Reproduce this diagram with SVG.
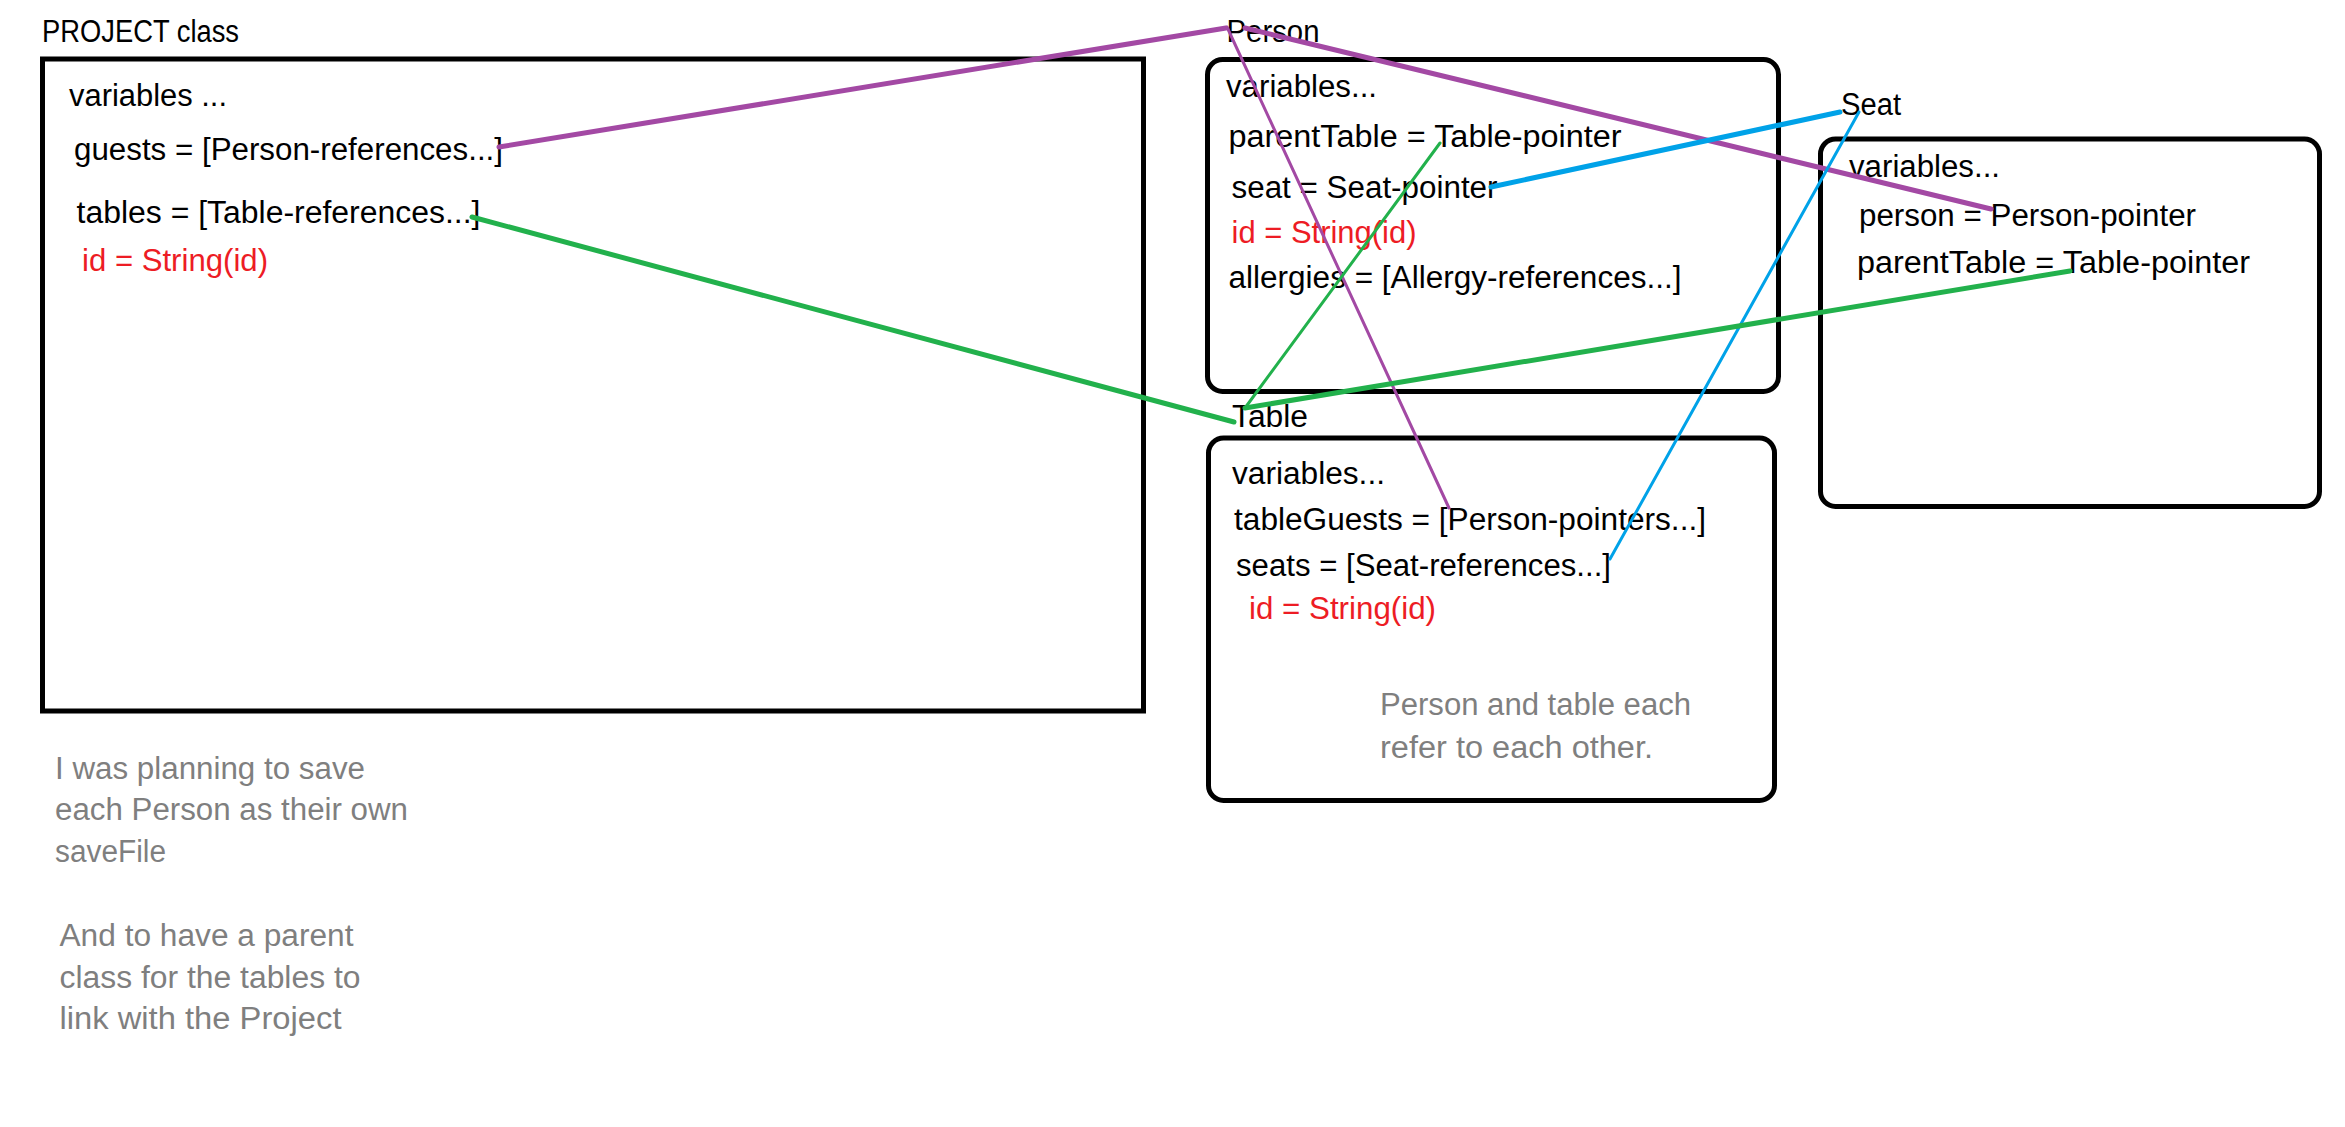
<svg xmlns="http://www.w3.org/2000/svg" width="2345" height="1127" viewBox="0 0 2345 1127">
<style>
text{font-family:"Liberation Sans",Arial,sans-serif;font-size:31px;fill:#000}
.red{fill:#ED1C24}
.gray{fill:#7F7F7F}
.box{fill:none;stroke:#000;stroke-width:5}
.thick{stroke-width:5;fill:none;stroke-linecap:round}
.thin{stroke-width:3;fill:none;stroke-linecap:round}
.purple{stroke:#A349A4}
.green{stroke:#22B14C}
.blue{stroke:#00A2E8}
</style>
<rect width="2345" height="1127" fill="#fff"/>
<g id="project">
<text x="42" y="41.5" textLength="197" lengthAdjust="spacingAndGlyphs">PROJECT class</text>
<rect class="box" x="42.5" y="59" width="1101" height="652"/>
<text x="69" y="106" textLength="158" lengthAdjust="spacingAndGlyphs">variables ...</text>
<text x="74" y="160" textLength="429" lengthAdjust="spacingAndGlyphs">guests = [Person-references...]</text>
<text x="76.5" y="222.5" textLength="404" lengthAdjust="spacingAndGlyphs">tables = [Table-references...]</text>
<text class="red" x="82" y="270.5" textLength="186" lengthAdjust="spacingAndGlyphs">id = String(id)</text>
</g>
<g id="person">
<text x="1226.5" y="41.5" textLength="93" lengthAdjust="spacingAndGlyphs">Person</text>
<rect class="box" x="1207.5" y="59.5" width="571" height="332" rx="15"/>
<text x="1226" y="97" textLength="151" lengthAdjust="spacingAndGlyphs">variables...</text>
<text x="1228.5" y="146.5" textLength="393" lengthAdjust="spacingAndGlyphs">parentTable = Table-pointer</text>
<text x="1231.5" y="198" textLength="266" lengthAdjust="spacingAndGlyphs">seat = Seat-pointer</text>
<text class="red" x="1231.5" y="242.5" textLength="185" lengthAdjust="spacingAndGlyphs">id = String(id)</text>
<text x="1228.5" y="287.5" textLength="453" lengthAdjust="spacingAndGlyphs">allergies = [Allergy-references...]</text>
</g>
<g id="seat">
<text x="1841" y="115" textLength="60" lengthAdjust="spacingAndGlyphs">Seat</text>
<rect class="box" x="1820.5" y="139" width="499" height="367.5" rx="15"/>
<text x="1849" y="176.5" textLength="151" lengthAdjust="spacingAndGlyphs">variables...</text>
<text x="1859" y="225.5" textLength="337" lengthAdjust="spacingAndGlyphs">person = Person-pointer</text>
<text x="1857" y="272.5" textLength="393" lengthAdjust="spacingAndGlyphs">parentTable = Table-pointer</text>
</g>
<g id="table">
<text x="1232" y="426.5" textLength="76" lengthAdjust="spacingAndGlyphs">Table</text>
<rect class="box" x="1208.5" y="438" width="566" height="362.5" rx="15"/>
<text x="1232" y="484" textLength="153" lengthAdjust="spacingAndGlyphs">variables...</text>
<text x="1234" y="530" textLength="472" lengthAdjust="spacingAndGlyphs">tableGuests = [Person-pointers...]</text>
<text x="1236" y="575.5" textLength="375" lengthAdjust="spacingAndGlyphs">seats = [Seat-references...]</text>
<text class="red" x="1249" y="618.5" textLength="187" lengthAdjust="spacingAndGlyphs">id = String(id)</text>
<text class="gray" x="1380" y="715" textLength="311" lengthAdjust="spacingAndGlyphs">Person and table each</text>
<text class="gray" x="1380" y="757.5" textLength="273" lengthAdjust="spacingAndGlyphs">refer to each other.</text>
</g>
<g id="notes">
<text class="gray" x="55" y="778.5" textLength="310" lengthAdjust="spacingAndGlyphs">I was planning to save</text>
<text class="gray" x="55" y="820" textLength="353" lengthAdjust="spacingAndGlyphs">each Person as their own</text>
<text class="gray" x="55" y="861.5" textLength="111" lengthAdjust="spacingAndGlyphs">saveFile</text>
<text class="gray" x="59.5" y="946" textLength="294" lengthAdjust="spacingAndGlyphs">And to have a parent</text>
<text class="gray" x="59.5" y="987.5" textLength="301" lengthAdjust="spacingAndGlyphs">class for the tables to</text>
<text class="gray" x="59.5" y="1029" textLength="282" lengthAdjust="spacingAndGlyphs">link with the Project</text>
</g>
<g id="connectors">
<line class="thick purple" x1="499" y1="147" x2="1226" y2="28"/>
<line class="thin purple" x1="1227" y1="27" x2="1449" y2="508"/>
<line class="thick purple" x1="1245" y1="28" x2="1991" y2="209"/>
<line class="thick blue" x1="1491" y1="187" x2="1840" y2="112"/>
<line class="thin blue" x1="1859" y1="112" x2="1610" y2="559"/>
<line class="thick green" x1="472" y1="217" x2="1234" y2="422"/>
<line class="thin green" x1="1440" y1="143" x2="1245" y2="408"/>
<line class="thick green" x1="1245" y1="408" x2="2070" y2="271"/>
</g>
</svg>
